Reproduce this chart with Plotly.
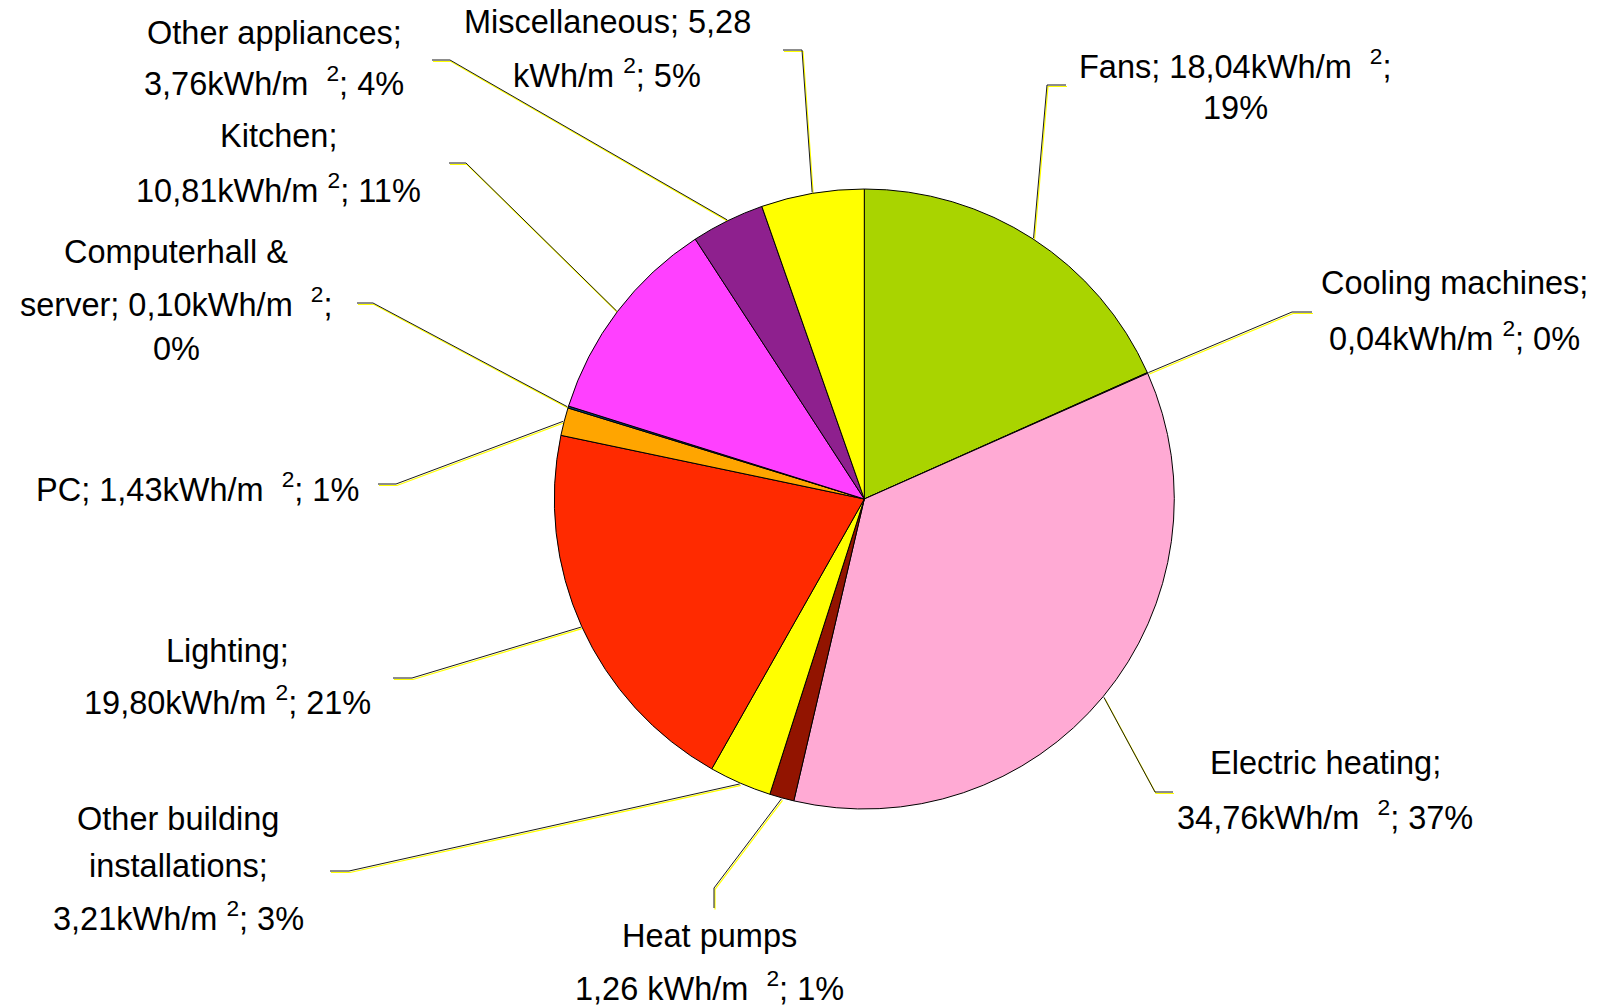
import numpy as np
import plotly.graph_objects as go

# ---------------- data ----------------
names = ["Fans", "Cooling machines", "Electric heating", "Heat pumps",
         "Other building installations", "Lighting", "PC",
         "Computerhall & server", "Kitchen", "Other appliances", "Miscellaneous"]
values = [18.04, 0.04, 34.76, 1.26, 3.21, 19.80, 1.43, 0.10, 10.81, 3.76, 5.28]
percents = [19, 0, 37, 1, 3, 21, 1, 0, 11, 4, 5]
colors = ["#A9D400", "#4A6A00", "#FFAAD4", "#921400", "#FFFF00", "#FF2A00",
          "#FFA500", "#004586", "#FF40FF", "#8E208E", "#FFFF00"]

SP = "\u00a0\u00a0"
label_templates = [
    ["{name}; {val}kWh/m" + SP + "<sup>2</sup>;", "{pct}%"],
    ["{name};", "{val}kWh/m\u00a0<sup>2</sup>; {pct}%"],
    ["{name};", "{val}kWh/m" + SP + "<sup>2</sup>; {pct}%"],
    ["{name}", "{val} kWh/m" + SP + "<sup>2</sup>; {pct}%"],
    ["Other building", "installations;", "{val}kWh/m\u00a0<sup>2</sup>; {pct}%"],
    ["{name};", "{val}kWh/m\u00a0<sup>2</sup>; {pct}%"],
    ["{name}; {val}kWh/m" + SP + "<sup>2</sup>; {pct}%"],
    ["Computerhall &", "server; {val}kWh/m" + SP + "<sup>2</sup>;", "{pct}%"],
    ["{name};", "{val}kWh/m\u00a0<sup>2</sup>; {pct}%"],
    ["{name};", "{val}kWh/m" + SP + "<sup>2</sup>; {pct}%"],
    ["{name}; {val}", "kWh/m\u00a0<sup>2</sup>; {pct}%"],
]

# ---------------- layout (pixel positions) ----------------
W, H = 1604, 1007
CX, CY, R = 864.3, 499.0, 310.0
FONT = "Liberation Sans, Arial, sans-serif"
FS = 32.5

# label block: center x, y of each line
label_pos = [
    (1235, [64, 108]),
    (1454, [283, 336]),
    (1325, [763, 815]),
    (709, [936, 986]),
    (178, [819, 866, 916]),
    (227, [651, 700]),
    (197, [487]),
    (176, [252, 302, 349]),
    (278, [136, 188]),
    (274, [33, 81]),
    (607, [22, 73]),
]
# leader line elbow and end points
leader_pts = [
    ((1047, 85), (1066, 85)),
    ((1292, 312), (1312, 312)),
    ((1155, 792), (1173, 792)),
    ((714, 888), (714, 908)),
    ((349, 871), (330, 871)),
    ((412, 678), (393, 678)),
    ((396, 484), (378, 484)),
    ((373, 303), (357, 303)),
    ((466, 163), (449, 163)),
    ((450, 60), (432, 60)),
    ((802, 50), (783, 50)),
]

vals = np.array(values)
total = vals.sum()
mid_deg = (np.cumsum(vals) - vals / 2) / total * 360.0

fig = go.Figure()
fig.add_trace(go.Pie(
    values=values, labels=names, sort=False, direction="clockwise", rotation=0,
    marker=dict(colors=colors, line=dict(color="black", width=1)),
    textinfo="none", showlegend=False,
    domain=dict(x=[(CX - R) / W, (CX + R) / W],
                y=[1 - (CY + R) / H, 1 - (CY - R) / H]),
))

annotations = []
for i, name in enumerate(names):
    th = np.deg2rad(mid_deg[i])
    ax = CX + (R + 1) * np.sin(th)
    ay = CY - (R + 1) * np.cos(th)
    (ex, ey), (fx, fy) = leader_pts[i]
    xs = [ax, ex, fx]
    ys = [ay, ey, fy]
    fig.add_trace(go.Scatter(x=[v + 1 for v in xs], y=[v + 1.5 for v in ys], mode="lines",
                             line=dict(color="#FFFF00", width=1.2), showlegend=False,
                             hoverinfo="skip"))
    fig.add_trace(go.Scatter(x=xs, y=ys, mode="lines",
                             line=dict(color="#1a1a1a", width=1), showlegend=False,
                             hoverinfo="skip"))
    valstr = f"{values[i]:.2f}".replace(".", ",")
    cx, lys = label_pos[i]
    for tmpl, ly in zip(label_templates[i], lys):
        txt = tmpl.format(name=name, val=valstr, pct=percents[i])
        annotations.append(dict(x=cx, y=ly, xref="x", yref="y", text=txt,
                                showarrow=False, xanchor="center", yanchor="middle",
                                font=dict(family=FONT, size=FS, color="black")))

fig.update_layout(
    width=W, height=H, margin=dict(l=0, r=0, t=0, b=0),
    paper_bgcolor="white", plot_bgcolor="rgba(0,0,0,0)",
    xaxis=dict(range=[0, W], visible=False, domain=[0, 1], fixedrange=True),
    yaxis=dict(range=[H, 0], visible=False, domain=[0, 1], fixedrange=True),
    annotations=annotations,
    font=dict(family=FONT),
)

fig.write_html("out.html", config={"displayModeBar": False},
               post_script="document.body.style.margin='0';document.body.style.overflow='hidden';")
